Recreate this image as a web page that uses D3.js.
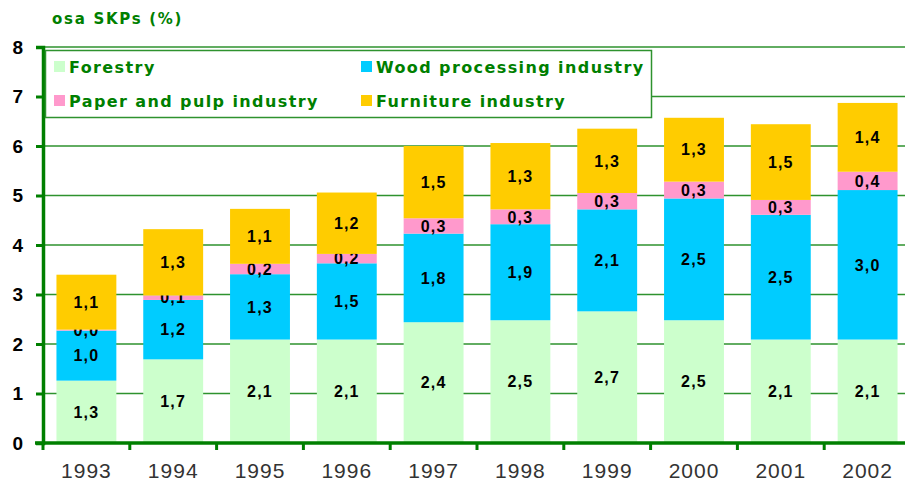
<!DOCTYPE html>
<html>
<head>
<meta charset="utf-8">
<script src="https://cdn.jsdelivr.net/npm/d3@7"></script>
<style>
  body { margin: 0; background: #fff; }
  svg { display: block; }
</style>
</head>
<body>
<div id="chart"></div>
<script>
// data
var years = ["1993", "1994", "1995", "1996", "1997", "1998", "1999", "2000", "2001", "2002"];
var forestry  = [1.26, 1.69, 2.09, 2.09, 2.44, 2.48, 2.66, 2.48, 2.09, 2.09];
var wood      = [1.01, 1.20, 1.32, 1.54, 1.79, 1.94, 2.06, 2.46, 2.52, 3.02];
var paper     = [0.02, 0.09, 0.21, 0.19, 0.31, 0.30, 0.33, 0.34, 0.30, 0.37];
var furniture = [1.11, 1.34, 1.11, 1.24, 1.46, 1.34, 1.30, 1.29, 1.53, 1.39];
var seriesNames = ["Forestry", "Wood processing industry", "Paper and pulp industry", "Furniture industry"];
var yTicks = [0, 1, 2, 3, 4, 5, 6, 7, 8];

var colors = ["#ccffcc", "#00ccff", "#ff99cc", "#ffcc00"];
var green = "#007f00";
var sans = "'Liberation Sans', Arial, sans-serif";
var verd = "'DejaVu Sans', Verdana, sans-serif";

var W = 905, H = 485;
var margin = {top: 47, right: -6, bottom: 42, left: 43};
var width = W - margin.left - margin.right,
    height = H - margin.top - margin.bottom;

var svg = d3.select("#chart").append("svg")
    .attr("width", W)
    .attr("height", H);

var table = years.map(function(y, i) {
  return {year: y, f: forestry[i], w: wood[i], p: paper[i], u: furniture[i]};
});
var stack = d3.stack().keys(["f", "w", "p", "u"])(table);

var x = d3.scaleBand()
    .domain(years)
    .range([margin.left, margin.left + width])
    .paddingInner(0.31)
    .paddingOuter(0.155);

var y = d3.scaleLinear()
    .domain([0, 8])
    .range([margin.top + height, margin.top]);

// grid lines
svg.append("g")
  .selectAll("line")
  .data(yTicks.slice(1))
  .enter().append("line")
    .attr("x1", margin.left)
    .attr("x2", W)
    .attr("y1", function(d) { return y(d); })
    .attr("y2", function(d) { return y(d); })
    .style("stroke", "#2e922e")
    .style("stroke-width", 1.5);

// bars
var layers = svg.append("g").selectAll("g")
  .data(stack)
  .enter().append("g")
    .style("fill", function(d, i) { return colors[i]; });

layers.selectAll("rect")
  .data(function(d) { return d; })
  .enter().append("rect")
    .attr("x", function(d) { return x(d.data.year); })
    .attr("width", x.bandwidth())
    .attr("y", function(d) { return y(d[1]); })
    .attr("height", function(d) { return y(d[0]) - y(d[1]); });

// value labels
var fmt = function(v) { return d3.format(".1f")(v).replace(".", ","); };
layers.selectAll("text")
  .data(function(d) { return d; })
  .enter().append("text")
    .attr("x", function(d) { return x(d.data.year) + x.bandwidth() / 2; })
    .attr("y", function(d) { return (y(d[0]) + y(d[1])) / 2; })
    .attr("dy", "0.36em")
    .attr("text-anchor", "middle")
    .style("fill", "#000")
    .style("font-family", sans)
    .style("font-weight", "bold")
    .style("font-size", "16px")
    .style("letter-spacing", "1.2px")
    .text(function(d) { return fmt(d[1] - d[0]); });

// Y axis
var yAxis = svg.append("g")
    .attr("transform", "translate(" + margin.left + ",0)")
    .call(d3.axisLeft(y).tickValues(yTicks).tickSize(7).tickPadding(13));
yAxis.select(".domain").style("stroke", green).style("stroke-width", 3.5);
yAxis.selectAll(".tick line").style("stroke", green).style("stroke-width", 3);
yAxis.selectAll("text")
    .style("font-family", sans)
    .style("font-weight", "bold")
    .style("font-size", "19px")
    .style("fill", "#000");

// X axis
var xAxis = svg.append("g")
    .attr("transform", "translate(0," + y(0) + ")")
    .call(d3.axisBottom(x).tickSize(0).tickPadding(20));
xAxis.select(".domain").remove();
xAxis.append("line")
    .attr("x1", margin.left - 8)
    .attr("x2", W)
    .style("stroke", green)
    .style("stroke-width", 3.5);
xAxis.selectAll(".sep")
  .data(years.concat(["end"]))
  .enter().append("line")
    .attr("class", "sep")
    .attr("x1", function(d, i) { return margin.left + i * x.step(); })
    .attr("x2", function(d, i) { return margin.left + i * x.step(); })
    .attr("y1", 0)
    .attr("y2", 7)
    .style("stroke", green)
    .style("stroke-width", 3);
xAxis.selectAll("text")
    .style("font-family", sans)
    .style("font-size", "21px")
    .style("letter-spacing", "1px")
    .style("fill", "#333");

// legend
var legend = svg.append("g");
legend.append("rect")
    .attr("x", 45.5)
    .attr("y", 50.5)
    .attr("width", 606)
    .attr("height", 67)
    .style("fill", "#fff")
    .style("stroke", "#2e922e")
    .style("stroke-width", 1.5);

var legPos = [[54, 61], [361, 61], [54, 95], [361, 95]];
var item = legend.selectAll(".item")
  .data(seriesNames)
  .enter().append("g")
    .attr("class", "item")
    .attr("transform", function(d, i) { return "translate(" + legPos[i][0] + "," + legPos[i][1] + ")"; });
item.append("rect")
    .attr("width", 11)
    .attr("height", 11)
    .style("fill", function(d, i) { return colors[i]; });
item.append("text")
    .attr("x", 15)
    .attr("y", 12)
    .style("font-family", verd)
    .style("font-weight", "bold")
    .style("font-size", "16px")
    .style("letter-spacing", "1.4px")
    .style("fill", green)
    .text(function(d) { return d; });

// axis title
svg.append("text")
    .attr("x", 52)
    .attr("y", 24)
    .style("font-family", verd)
    .style("font-weight", "bold")
    .style("font-size", "15px")
    .style("letter-spacing", "1.7px")
    .style("fill", green)
    .text("osa SKPs (%)");
</script>
</body>
</html>
